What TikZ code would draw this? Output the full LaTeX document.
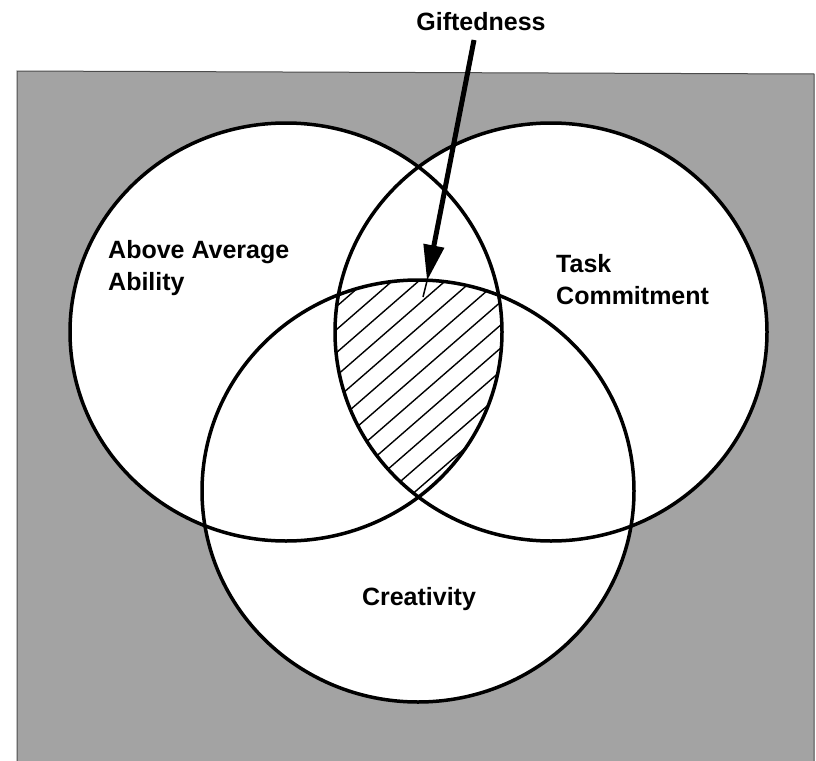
\documentclass[tikz,border=0pt]{standalone}
\usepackage{fontspec}
\setmainfont{Liberation Sans}
\usetikzlibrary{arrows.meta}
\definecolor{stipple}{gray}{0.64}
\begin{document}
\begin{tikzpicture}[x=1pt,y=-1pt,
  ring/.style={line width=3.5pt},
  hatchline/.style={line width=1.4pt},
  lbl/.style={font=\fontsize{25}{32}\selectfont\bfseries, inner sep=0pt, align=left},
]
\useasboundingbox (0,0) rectangle (816,760);
% stippled background
\fill[stipple] (17,71) -- (814,74) -- (814,762) -- (17,762) -- cycle;
\draw[black!70, line width=1pt] (17,762) -- (17,71) -- (814,74) -- (814,762);
% white discs
\fill[white] (286,332) ellipse [x radius=216pt, y radius=209pt];
\fill[white] (551,332) ellipse [x radius=216pt, y radius=209pt];
\fill[white] (418,491) ellipse [x radius=216pt, y radius=211pt];
% hatched triple intersection
\begin{scope}
  \clip (286,332) ellipse [x radius=216pt, y radius=209pt];
  \clip (551,332) ellipse [x radius=216pt, y radius=209pt];
  \clip (418,491) ellipse [x radius=216pt, y radius=211pt];
  \foreach \k in {-3,...,11}
    \draw[hatchline] ({267+\k*26.5-200},564) -- ({267+\k*26.5+200},216);
\end{scope}
% outlines
\draw[ring] (286,332) ellipse [x radius=216pt, y radius=209pt];
\draw[ring] (551,332) ellipse [x radius=216pt, y radius=209pt];
\draw[ring] (418,491) ellipse [x radius=216pt, y radius=211pt];
% labels
\node[lbl, anchor=north west] (ability) at (108,240) {Above Average\\Ability};
\node[lbl, anchor=north west] (task) at (556,254) {Task\\Commitment};
\node[lbl, anchor=north] (creativity) at (419,587) {Creativity};
\node[lbl, anchor=north] (gift) at (481,12) {Giftedness};
% arrow
\coordinate (astart) at (474,40);
\coordinate (atip) at (427,281);
\coordinate (aend) at (423,297);
\draw[line width=5pt, -{Triangle[length=36pt,width=20pt]}] (astart) -- (atip);
\draw[line width=1.5pt] (atip) -- (aend);
\end{tikzpicture}
\end{document}
